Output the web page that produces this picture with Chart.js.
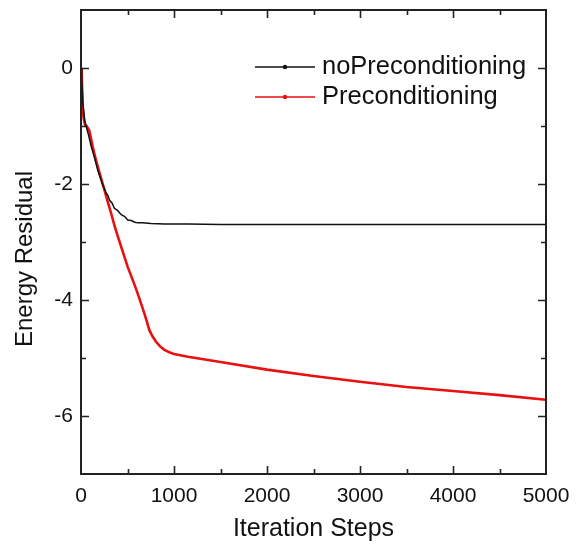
<!DOCTYPE html>
<html>
<head>
<meta charset="utf-8">
<script src="https://cdn.jsdelivr.net/npm/chart.js@4.4.1/dist/chart.umd.min.js"></script>
<style>
  html, body { margin: 0; padding: 0; background: #fff; }
  #wrap { width: 584px; height: 548px; position: relative; }
</style>
</head>
<body>
<div id="wrap"><canvas id="c" width="584" height="548"></canvas></div>
<script>
// ---- data ----
const seriesNames = ['noPreconditioning', 'Preconditioning'];
const iterNoPre = [0, 8, 20, 40, 57, 80, 111, 140, 180, 230, 272, 290, 308, 335, 359, 395, 433, 470, 502, 540, 580, 610, 660, 753, 900, 1150, 1500, 2000, 2500, 3000, 3500, 4000, 4500, 5000];
const valNoPre  = [0, -0.2, -0.6, -0.9, -1.01, -1.15, -1.36, -1.52, -1.76, -2.0, -2.16, -2.2, -2.28, -2.33, -2.42, -2.46, -2.53, -2.56, -2.62, -2.63, -2.66, -2.67, -2.67, -2.68, -2.69, -2.69, -2.70, -2.70, -2.70, -2.70, -2.70, -2.70, -2.70, -2.70];
const iterPre = [0, 8, 18, 30, 43, 60, 90, 126, 150, 180, 215, 252, 290, 323, 360, 395, 450, 502, 560, 610, 650, 681, 710, 735, 770, 807, 850, 897, 950, 1000, 1150, 1500, 2000, 2500, 3000, 3500, 4000, 4500, 5000];
const valPre  = [0, -0.1, -0.7, -0.88, -0.98, -1.0, -1.08, -1.36, -1.52, -1.70, -1.9, -2.1, -2.32, -2.5, -2.72, -2.9, -3.17, -3.43, -3.67, -3.89, -4.08, -4.23, -4.38, -4.52, -4.63, -4.72, -4.8, -4.86, -4.9, -4.93, -4.98, -5.07, -5.2, -5.31, -5.41, -5.5, -5.57, -5.64, -5.72];
const xTickValues = [0, 1000, 2000, 3000, 4000, 5000];
const yTickValues = [-6, -4, -2, 0];
const xTitle = 'Iteration Steps';
const yTitle = 'Energy Residual';

const toPts = (xs, ys) => xs.map((x, i) => ({ x: x, y: ys[i] }));

const FONT = '"Liberation Sans", Arial, Helvetica, sans-serif';

const framePlugin = {
  id: 'frame',
  afterDatasetsDraw(chart) {
    const { ctx, chartArea: a, scales: { x, y } } = chart;
    ctx.save();
    ctx.strokeStyle = '#222';
    ctx.lineWidth = 2;
    ctx.strokeRect(a.left, a.top, a.right - a.left, a.bottom - a.top);
    ctx.lineWidth = 1.6;
    ctx.beginPath();
    for (let v = 500; v < 5000; v += 500) {
      const px = Math.round(x.getPixelForValue(v)) + 0.5;
      const len = (v % 1000 === 0) ? 8 : 5;
      ctx.moveTo(px, a.bottom); ctx.lineTo(px, a.bottom - len);
      ctx.moveTo(px, a.top); ctx.lineTo(px, a.top + len);
    }
    for (let v = -6; v <= 0; v += 1) {
      const py = Math.round(y.getPixelForValue(v)) + 0.5;
      const len = (v % 2 === 0) ? 8 : 5;
      ctx.moveTo(a.left, py); ctx.lineTo(a.left + len, py);
      ctx.moveTo(a.right, py); ctx.lineTo(a.right - len, py);
    }
    ctx.stroke();
    ctx.restore();
  },
  afterDraw(chart) {
    const { ctx } = chart;
    ctx.save();
    // y axis title
    ctx.fillStyle = '#111';
    ctx.font = '24px ' + FONT;
    ctx.textAlign = 'center';
    ctx.textBaseline = 'middle';
    ctx.translate(25, 259);
    ctx.rotate(-Math.PI / 2);
    ctx.fillText(yTitle, 0, 0);
    ctx.restore();

    // legend
    ctx.save();
    const rows = [67, 97];
    chart.data.datasets.forEach((ds, i) => {
      const yy = rows[i];
      ctx.strokeStyle = ds.borderColor;
      ctx.lineWidth = 1.5;
      ctx.beginPath();
      ctx.moveTo(255, yy); ctx.lineTo(315, yy);
      ctx.stroke();
      ctx.fillStyle = ds.borderColor;
      ctx.beginPath();
      ctx.arc(285, yy, 2.2, 0, Math.PI * 2);
      ctx.fill();
      ctx.fillStyle = '#111';
      ctx.font = '25.5px ' + FONT;
      ctx.textAlign = 'left';
      ctx.textBaseline = 'middle';
      ctx.fillText(ds.label, 322, yy);
    });
    ctx.restore();
  }
};

new Chart(document.getElementById('c'), {
  type: 'line',
  data: {
    datasets: [
      { label: seriesNames[0], data: toPts(iterNoPre, valNoPre), borderColor: '#111111', borderWidth: 1.5, pointRadius: 0, tension: 0, order: 1 },
      { label: seriesNames[1], data: toPts(iterPre, valPre), borderColor: '#e81010', borderWidth: 2.6, pointRadius: 0, tension: 0, order: 2 }
    ]
  },
  options: {
    responsive: false,
    animation: false,
    events: [],
    layout: { padding: { top: 10, right: 38, left: 0, bottom: 0 } },
    plugins: { legend: { display: false }, tooltip: { enabled: false } },
    scales: {
      x: {
        type: 'linear', min: 0, max: 5000,
        afterBuildTicks: s => { s.ticks = xTickValues.map(v => ({ value: v })); },
        afterFit: s => { s.height = 74; s.paddingLeft = 0; s.paddingRight = 0; },
        grid: { display: false, drawTicks: false },
        border: { display: false },
        ticks: { padding: 10, color: '#111', font: { family: FONT, size: 21 }, maxRotation: 0, callback: v => String(v) },
        title: { display: true, text: xTitle, color: '#111', font: { family: FONT, size: 25 }, padding: { bottom: 4, top: 0 } }
      },
      y: {
        type: 'linear', min: -7, max: 1,
        afterBuildTicks: s => { s.ticks = yTickValues.map(v => ({ value: v })); },
        afterFit: s => { s.width = 81; s.paddingTop = 0; s.paddingBottom = 0; },
        grid: { display: false, drawTicks: false },
        border: { display: false },
        ticks: { padding: 8, color: '#111', font: { family: FONT, size: 21 }, callback: v => String(v) }
      }
    }
  },
  plugins: [framePlugin]
});
</script>
</body>
</html>
